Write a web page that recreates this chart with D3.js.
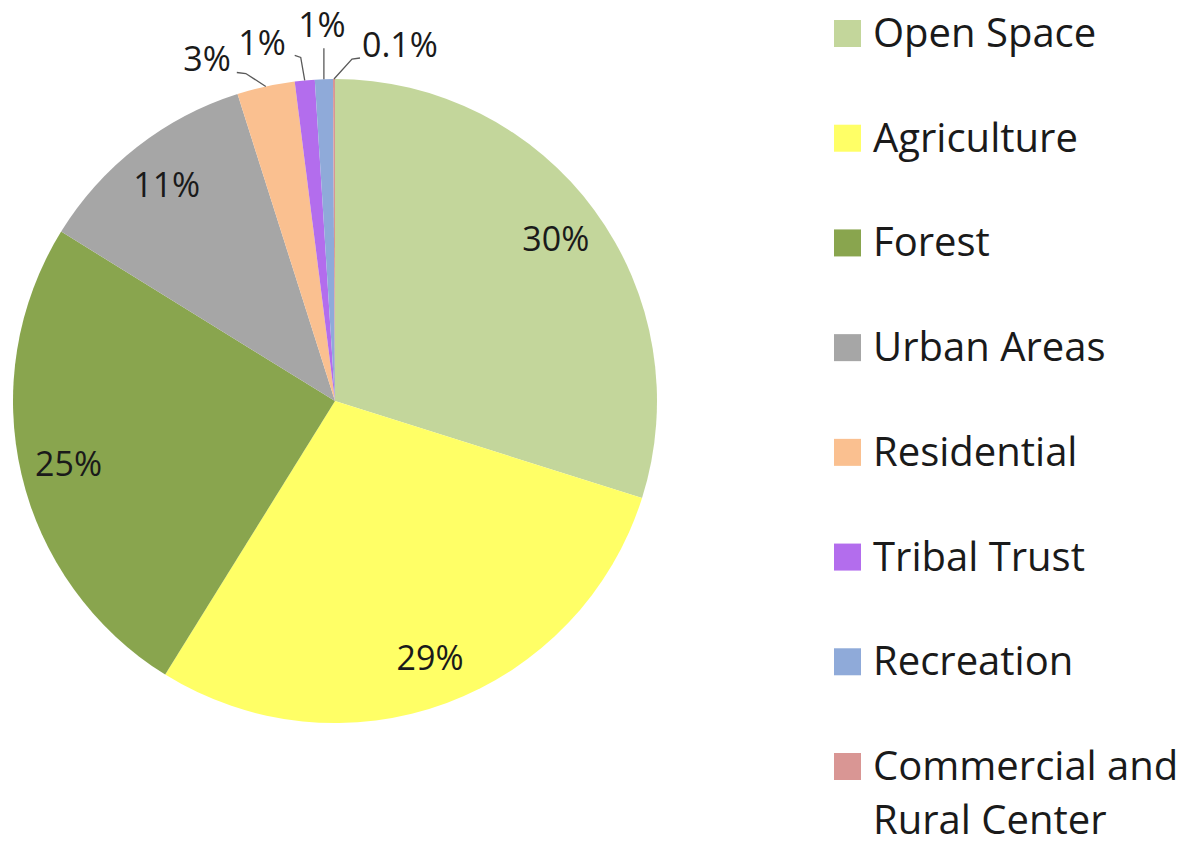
<!DOCTYPE html>
<html>
<head>
<meta charset="utf-8">
<script src="https://cdn.jsdelivr.net/npm/d3@7"></script>
<style>
  body { margin: 0; background: #fff; }
  text { font-family: "Open Sans", sans-serif; fill: #1a1a1a; }
</style>
</head>
<body>
<div id="chart"></div>
<script>
// land use shares (%), clockwise from 12 o'clock
const categories = ["Open Space", "Agriculture", "Forest", "Urban Areas", "Residential",
    "Tribal Trust", "Recreation", "Commercial and Rural Center"];
const shares = [29.9, 29.0, 25.0, 11.3, 2.9, 1.0, 0.9, 0.1];
const colors = ["#c3d69b", "#ffff66", "#89a54e", "#a6a6a6", "#fac090",
    "#b36ded", "#8faad9", "#d99694"];
const legendLines = [["Open Space"], ["Agriculture"], ["Forest"], ["Urban Areas"], ["Residential"],
    ["Tribal Trust"], ["Recreation"], ["Commercial and", "Rural Center"]];

const width = 1188;
const height = 845;
const cx = 335, cy = 401, radius = 322;

const data = categories.map((c, i) => ({ name: c, value: shares[i], color: colors[i] }));

const fmt = v => Math.round(v) >= 1 ? Math.round(v) + "%" : v.toFixed(1) + "%";

const svg = d3.select("#chart")
    .append("svg")
    .attr("width", width)
    .attr("height", height);

const pieG = svg.append("g")
    .attr("transform", `translate(${cx}, ${cy})`);

const pie = d3.pie()
    .value(d => d.value)
    .sort(null);

const arcs = pie(data);

const arc = d3.arc()
    .innerRadius(0)
    .outerRadius(radius);

pieG.selectAll("path")
    .data(arcs)
    .join("path")
    .attr("d", arc)
    .attr("fill", d => d.data.color);

// inside labels sit at 85% of the radius
const labelArc = d3.arc()
    .innerRadius(radius * 0.85)
    .outerRadius(radius * 0.85);

const edgeArc = d3.arc()
    .innerRadius(radius)
    .outerRadius(radius);

// small slices get a leader line (offsets from the slice's outer edge)
const callouts = {
    4: { elbow: [-20, -13], end: [-29, -14], text: [-35, -16], anchor: "end" },
    5: { elbow: [-4, -23], end: [-10, -25], text: [-19, -25], anchor: "end" },
    6: { elbow: [0, -31], end: [0, -31], text: [-2, -42], anchor: "middle" },
    7: { elbow: [18, -20], end: [26, -21], text: [28, -22], anchor: "start" }
};

arcs.forEach((d, i) => {
    const c = callouts[i];
    if (!c) {
        const [x, y] = labelArc.centroid(d);
        pieG.append("text")
            .attr("x", x)
            .attr("y", y)
            .attr("dy", "0.36em")
            .attr("text-anchor", "middle")
            .attr("font-size", 34)
            .text(fmt(d.data.value));
        return;
    }
    const [ax, ay] = edgeArc.centroid(d);
    const pts = [[ax, ay], [ax + c.elbow[0], ay + c.elbow[1]], [ax + c.end[0], ay + c.end[1]]];
    pieG.append("path")
        .attr("d", d3.line()(pts))
        .attr("fill", "none")
        .attr("stroke", "#595959")
        .attr("stroke-width", 1.3);
    pieG.append("text")
        .attr("x", ax + c.text[0])
        .attr("y", ay + c.text[1])
        .attr("text-anchor", c.anchor)
        .attr("font-size", 34)
        .text(fmt(d.data.value));
});

// legend
const legendY = d3.scalePoint()
    .domain(categories)
    .range([47, 780]);

const legend = svg.append("g")
    .selectAll("g")
    .data(data)
    .join("g")
    .attr("transform", d => `translate(834, ${legendY(d.name)})`);

legend.append("rect")
    .attr("x", 0)
    .attr("y", -27)
    .attr("width", 27)
    .attr("height", 27)
    .attr("fill", d => d.color);

legend.append("text")
    .attr("x", 39)
    .attr("y", 0)
    .attr("font-size", 40)
    .selectAll("tspan")
    .data((d, i) => legendLines[i])
    .join("tspan")
    .attr("x", 39)
    .attr("dy", (d, j) => j === 0 ? 0 : 54)
    .text(d => d);
</script>
</body>
</html>
